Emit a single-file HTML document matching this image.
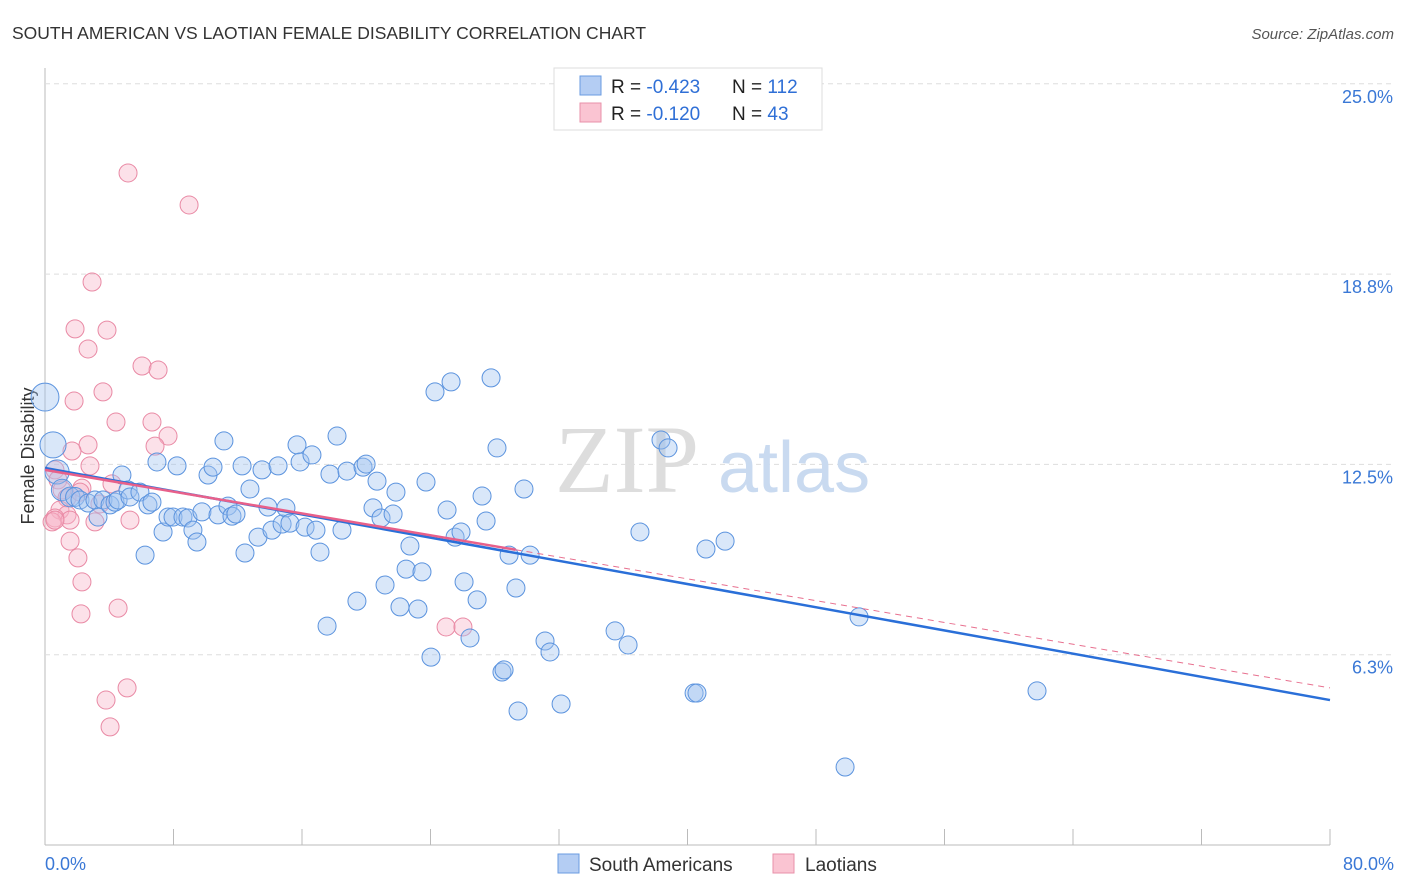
<!DOCTYPE html>
<html><head><meta charset="utf-8">
<style>
body{margin:0;background:#fff;font-family:"Liberation Sans",sans-serif;}
svg{display:block}
</style></head>
<body>
<svg id="chart" width="1406" height="892">
<text x="12" y="39" font-size="17.5" fill="#333">SOUTH AMERICAN VS LAOTIAN FEMALE DISABILITY CORRELATION CHART</text>
<text x="1394" y="39" font-size="15" fill="#555" font-style="italic" text-anchor="end">Source: ZipAtlas.com</text>
<text transform="translate(34,456) rotate(-90)" font-size="18" fill="#333" text-anchor="middle">Female Disability</text>
<g id="grid"></g>
<text x="555" y="492" font-size="96" fill="#ddd" font-family="Liberation Serif">ZIP</text>
<text x="718" y="492" font-size="72" fill="#c9daf0">atlas</text>
<g id="pts"></g>
<g id="lines"></g>
<rect x="554" y="68" width="268" height="62" fill="#fff" stroke="#ddd"/>
<rect x="580" y="76" width="21" height="19" fill="#b4cdf3" stroke="#6a9be0"/>
<rect x="580" y="103" width="21" height="19" fill="#fac4d2" stroke="#e891a9"/>
<text x="611" y="93" font-size="19" fill="#222">R = <tspan fill="#2f6fd6">-0.423</tspan></text>
<text x="732" y="93" font-size="19" fill="#222">N = <tspan fill="#2f6fd6">112</tspan></text>
<text x="611" y="120" font-size="19" fill="#222">R = <tspan fill="#2f6fd6"> -0.120</tspan></text>
<text x="732" y="120" font-size="19" fill="#222">N = <tspan fill="#2f6fd6"> 43</tspan></text>
<rect x="558" y="854" width="21" height="19" fill="#b4cdf3" stroke="#6a9be0"/>
<text x="589" y="871" font-size="19" fill="#333">South Americans</text>
<rect x="773" y="854" width="21" height="19" fill="#fac4d2" stroke="#e891a9"/>
<text x="805" y="871" font-size="19" fill="#333">Laotians</text>
</svg>
<script>
const xTicks=[0,8,16,24,32,40,48,56,64,72,80];
const yTicks=[6.25,12.5,18.75,25];
const yTickLabels=["6.3%","12.5%","18.8%","25.0%"];
const xEndLabels=["0.0%","80.0%"];
const blueX=[0,0.5,0.75,1.06,1.56,1.87,2.18,2.68,3.11,3.3,3.61,4.05,4.36,4.55,4.79,5.17,5.29,5.91,6.23,6.41,6.66,6.97,7.35,7.66,7.97,8.22,8.59,8.9,9.21,9.46,9.77,10.15,10.46,10.77,11.14,11.39,11.64,11.89,12.27,12.45,12.76,13.26,13.51,13.88,14.13,14.51,14.76,15,15.25,15.69,15.88,16.19,16.62,16.87,17.12,17.56,17.74,18.18,18.49,18.8,19.42,19.8,19.99,20.42,20.67,20.92,21.17,21.67,21.85,22.1,22.48,22.72,23.22,23.47,23.72,24.03,24.28,25.03,25.28,25.53,25.9,26.09,26.46,26.9,27.21,27.46,27.77,28.14,28.89,29.32,29.45,29.82,30.2,31.13,31.44,32.13,35.49,36.3,37.04,38.35,38.79,40.41,40.59,41.15,42.34,50.68,61.76,49.81,28.45,28.58];
const blueY=[14.71,13.14,12.25,11.66,11.43,11.43,11.33,11.23,11.33,10.77,11.33,11.17,11.26,11.33,12.15,11.66,11.43,11.59,9.52,11.17,11.26,12.58,10.28,10.77,10.77,12.45,10.77,10.74,10.34,9.95,10.94,12.15,12.41,10.84,13.27,11.13,10.8,10.87,12.45,9.59,11.69,10.11,12.32,11.1,10.34,12.45,10.54,11.07,10.57,13.14,12.58,10.44,12.81,10.34,9.62,7.19,12.18,13.43,10.34,12.28,8.01,12.41,12.51,11.07,11.95,10.74,8.54,10.87,11.59,7.82,9.06,9.82,7.75,8.97,11.92,6.17,14.88,11,15.21,10.11,10.28,8.64,6.8,8.05,11.46,10.64,15.34,13.04,9.52,8.44,4.4,11.69,9.52,6.7,6.34,4.63,7.03,6.57,10.28,13.3,13.04,4.99,4.99,9.72,9.98,7.49,5.06,2.56,5.68,5.75];
const blueW=[2.4,2.1,1.8,1.4,1.2,1.1];
const pinkX=[5.17,8.97,2.93,1.87,3.86,2.68,6.04,7.04,3.61,1.81,4.42,6.66,7.66,2.68,6.85,1.68,2.8,0.62,0.81,4.17,1.06,1.37,2.3,2.18,3.42,0.93,1.37,0.62,0.44,1.56,3.11,5.29,1.56,2.05,2.3,2.24,4.55,5.11,3.8,4.05,24.97,26.02,0.62];
const pinkY=[22.07,21.02,18.49,16.95,16.91,16.29,15.73,15.6,14.88,14.58,13.89,13.89,13.43,13.14,13.1,12.94,12.45,12.32,11.99,11.86,11.66,11.4,11.72,11.59,11.2,11,10.84,10.74,10.61,10.67,10.61,10.67,9.98,9.43,8.64,7.59,7.78,5.16,4.76,3.88,7.16,7.16,10.67];
const blueTrend=[12.38,4.76];
const pinkTrend=[12.32,5.16];
const pinkSolidEnd=29.3;

const X0=45,X1=1330,YB=845,PXPER=30.45;
const sx=v=>X0+(X1-X0)*v/80;
const sy=v=>YB-v*PXPER;
const NS="http://www.w3.org/2000/svg";
function mk(tag,attrs,parent){const e=document.createElementNS(NS,tag);for(const k in attrs)e.setAttribute(k,attrs[k]);parent.appendChild(e);return e;}
const grid=document.getElementById('grid'),svg=document.getElementById('chart');
mk('line',{x1:X0,y1:68,x2:X0,y2:YB,stroke:'#bbb'},grid);
mk('line',{x1:X0,y1:YB,x2:X1,y2:YB,stroke:'#bbb'},grid);
yTicks.forEach((t,i)=>{
  const l=mk('line',{x1:X0,y1:sy(t),x2:1394,y2:sy(t),stroke:'#ddd','stroke-dasharray':'5,4'},grid);
  
  
  const tx=mk('text',{x:1393,y:sy(t)+19,'font-size':18,fill:'#3a78d6','text-anchor':'end'},grid);
  tx.textContent=yTickLabels[i];
  
  
});
xTicks.forEach(t=>{
  const l=mk('line',{x1:sx(t),y1:829,x2:sx(t),y2:YB,stroke:'#bbb'},grid);
  
  
});
const xl0=mk('text',{x:45,y:870,'font-size':18,fill:'#3a78d6'},svg);
xl0.textContent=xEndLabels[0];


const xl1=mk('text',{x:1394,y:870,'font-size':18,fill:'#3a78d6','text-anchor':'end'},svg);
xl1.textContent=xEndLabels[1];


const pts=document.getElementById('pts');
pinkX.forEach((x,i)=>{
  const c=mk('circle',{cx:sx(x),cy:sy(pinkY[i]),r:9,fill:'rgba(248,180,200,0.4)',stroke:'#e98aa5','stroke-width':1},pts);
  
  
});
blueX.forEach((x,i)=>{
  const w=blueW[i]||1;
  const c=mk('circle',{cx:sx(x),cy:sy(blueY[i]),r:9*Math.sqrt(w),fill:'rgba(160,195,240,0.4)',stroke:'#5b93de','stroke-width':1},pts);
  
  
});
const lines=document.getElementById('lines');
const pAt=x=>pinkTrend[0]+(pinkTrend[1]-pinkTrend[0])*x/80;
const pd=mk('line',{x1:sx(pinkSolidEnd),y1:sy(pAt(pinkSolidEnd)),x2:sx(80),y2:sy(pinkTrend[1]),stroke:'#e8708f','stroke-width':1,'stroke-dasharray':'6,5'},lines);


const bl=mk('line',{x1:sx(0),y1:sy(blueTrend[0]),x2:sx(80),y2:sy(blueTrend[1]),stroke:'#2a6fd8','stroke-width':2.5},lines);


const pl=mk('line',{x1:sx(0),y1:sy(pinkTrend[0]),x2:sx(pinkSolidEnd),y2:sy(pAt(pinkSolidEnd)),stroke:'#e8608a','stroke-width':2.5},lines);


</script>
</body></html>
